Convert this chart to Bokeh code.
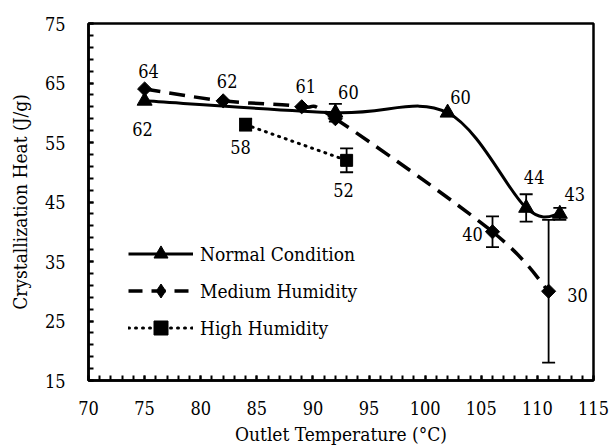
import numpy as np
from bokeh.plotting import figure
from bokeh.models import (Range1d, FixedTicker, ColumnDataSource, Whisker, TeeHead,
                          Legend, LegendItem)
from bokeh.core.properties import value
from bokeh.embed import file_html
from bokeh.resources import INLINE

# ---------------- data ----------------
normal_x = [75, 92, 102, 109, 112]
normal_y = [62, 60, 60, 44, 43]
normal_err = [0, 1.5, 0, 2.3, 1.0]
normal_labels = ["62", "60", "60", "44", "43"]

medium_x = [75, 82, 89, 92, 106, 111]
medium_y = [64, 62, 61, 59, 40, 30]
medium_err = [0, 0, 0, 0, 2.6, 12]
medium_labels = ["64", "62", "61", "", "40", "30"]

high_x = [84, 93]
high_y = [58, 52]
high_err = [1.0, 2.0]
high_labels = ["58", "52"]

x_ticks = [70, 75, 80, 85, 90, 95, 100, 105, 110, 115]
y_ticks = [15, 25, 35, 45, 55, 65, 75]

# label placement (screen px offsets)
normal_dx = [-2, 13, 13, 8, 15]
normal_dy = [28, -21, -16, -31, -20]
medium_dx = [4, 4, 4, 0, -20, 29]
medium_dy = [-18, -20, -21, 0, 2, 4]
high_dx = [-5, -3]
high_dy = [22, 30]

FONT = "'DejaVu Serif Condensed', 'DejaVu Serif'"


def bezier_source(xs, ys):
    """Smoothed (Catmull-Rom style) bezier segments through the points."""
    xs = np.asarray(xs, float)
    ys = np.asarray(ys, float)
    n = len(xs)
    d = dict(x0=[], y0=[], x1=[], y1=[], cx0=[], cy0=[], cx1=[], cy1=[])
    for i in range(n - 1):
        ip = max(i - 1, 0)
        inx = min(i + 2, n - 1)
        d["x0"].append(xs[i]); d["y0"].append(ys[i])
        d["x1"].append(xs[i + 1]); d["y1"].append(ys[i + 1])
        d["cx0"].append(xs[i] + (xs[i + 1] - xs[ip]) / 6)
        d["cy0"].append(ys[i] + (ys[i + 1] - ys[ip]) / 6)
        d["cx1"].append(xs[i + 1] - (xs[inx] - xs[i]) / 6)
        d["cy1"].append(ys[i + 1] - (ys[inx] - ys[i]) / 6)
    return ColumnDataSource(d)


def whisker_source(xs, ys, errs):
    b, u, l = [], [], []
    for x, y, e in zip(xs, ys, errs):
        if e > 0:
            b.append(x); u.append(y + e); l.append(y - e)
    return ColumnDataSource(dict(base=b, upper=u, lower=l))


p = figure(width=611, height=448, x_range=Range1d(70, 115), y_range=Range1d(15, 75),
           output_backend="svg", toolbar_location=None,
           min_border_left=88, min_border_right=18, min_border_top=23, min_border_bottom=68,
           background_fill_color="white", border_fill_color="white")
p.grid.visible = False
p.outline_line_color = "black"
p.outline_line_width = 2.5

p.xaxis.ticker = FixedTicker(ticks=x_ticks, minor_ticks=list(np.arange(70, 116, 1)))
p.yaxis.ticker = FixedTicker(ticks=y_ticks, minor_ticks=list(np.arange(15, 76, 2)))
for ax in (p.xaxis[0], p.yaxis[0]):
    ax.axis_line_width = 2.5
    ax.axis_line_color = "black"
    ax.major_tick_in = 5
    ax.major_tick_out = 0
    ax.minor_tick_in = 5
    ax.minor_tick_out = 0
    ax.major_tick_line_width = 2
    ax.minor_tick_line_width = 2
    ax.major_tick_line_color = "black"
    ax.minor_tick_line_color = "black"
    ax.major_label_text_font = FONT
    ax.major_label_text_font_size = "18px"
    ax.major_label_text_color = "black"
    ax.axis_label_text_font = FONT
    ax.axis_label_text_font_size = "19px"
    ax.axis_label_text_font_style = "normal"
    ax.axis_label_text_color = "black"
p.xaxis.axis_label = "Outlet Temperature (°C)"
p.yaxis.axis_label = "Crystallization Heat (J/g)"
p.xaxis.major_label_standoff = 20
p.xaxis.axis_label_standoff = 5
p.yaxis.major_label_standoff = 23
p.yaxis.axis_label_standoff = 11

# error bars
for xs, ys, es in ((normal_x, normal_y, normal_err), (medium_x, medium_y, medium_err),
                   (high_x, high_y, high_err)):
    w = Whisker(source=whisker_source(xs, ys, es), base="base", upper="upper", lower="lower",
                dimension="height", line_width=1.8, line_color="black",
                upper_head=TeeHead(size=13, line_width=1.8, line_color="black"),
                lower_head=TeeHead(size=13, line_width=1.8, line_color="black"))
    p.add_layout(w)

# curves
p.bezier(x0="x0", y0="y0", x1="x1", y1="y1", cx0="cx0", cy0="cy0", cx1="cx1", cy1="cy1",
         source=bezier_source(normal_x, normal_y), line_color="black", line_width=3)
p.bezier(x0="x0", y0="y0", x1="x1", y1="y1", cx0="cx0", cy0="cy0", cx1="cx1", cy1="cy1",
         source=bezier_source(medium_x, medium_y), line_color="black", line_width=3.5,
         line_dash="16 9")
p.line(high_x, high_y, line_color="black", line_width=3, line_dash="1 6", line_cap="round")

# markers
p.scatter(normal_x, normal_y, marker="triangle", size=15, color="black")
p.scatter(medium_x, medium_y, marker="square", angle=np.pi / 4, size=10, color="black")
p.scatter(high_x, high_y, marker="square", size=12, color="black")

# data labels
for xs, ys, labs, dx, dy in ((normal_x, normal_y, normal_labels, normal_dx, normal_dy),
                             (medium_x, medium_y, medium_labels, medium_dx, medium_dy),
                             (high_x, high_y, high_labels, high_dx, high_dy)):
    src = ColumnDataSource(dict(x=xs, y=ys, t=labs, dx=dx, dy=dy))
    p.text(x="x", y="y", text="t", x_offset="dx", y_offset="dy", source=src,
           text_font=value(FONT), text_font_size="18px", text_color="black",
           text_align="center", text_baseline="middle")

# legend proxies (placed outside the visible ranges; only their legend glyphs show)
px, py = [0, 1], [0, 0]
l_n = p.line(px, py, line_color="black", line_width=3)
l_m = p.line(px, py, line_color="black", line_width=3.5, line_dash="14 9")
l_h = p.line(px, py, line_color="black", line_width=3, line_dash="1 6", line_cap="round")
m_n = p.scatter(px, py, marker="triangle", size=15, color="black")
m_m = p.scatter(px, py, marker="diamond", size=15, color="black")
m_h = p.scatter(px, py, marker="square", size=12, color="black")

legend = Legend(items=[LegendItem(label="Normal Condition", renderers=[l_n, m_n]),
                       LegendItem(label="Medium Humidity", renderers=[l_m, m_m]),
                       LegendItem(label="High Humidity", renderers=[l_h, m_h])],
                location=(40, 35), glyph_width=65, glyph_height=35, label_height=35,
                spacing=2, padding=0, margin=0, label_standoff=7,
                label_text_font=FONT, label_text_font_size="19px", label_text_color="black",
                border_line_alpha=0, background_fill_alpha=0)
p.add_layout(legend)

open("out.html", "w").write(file_html(p, INLINE))
